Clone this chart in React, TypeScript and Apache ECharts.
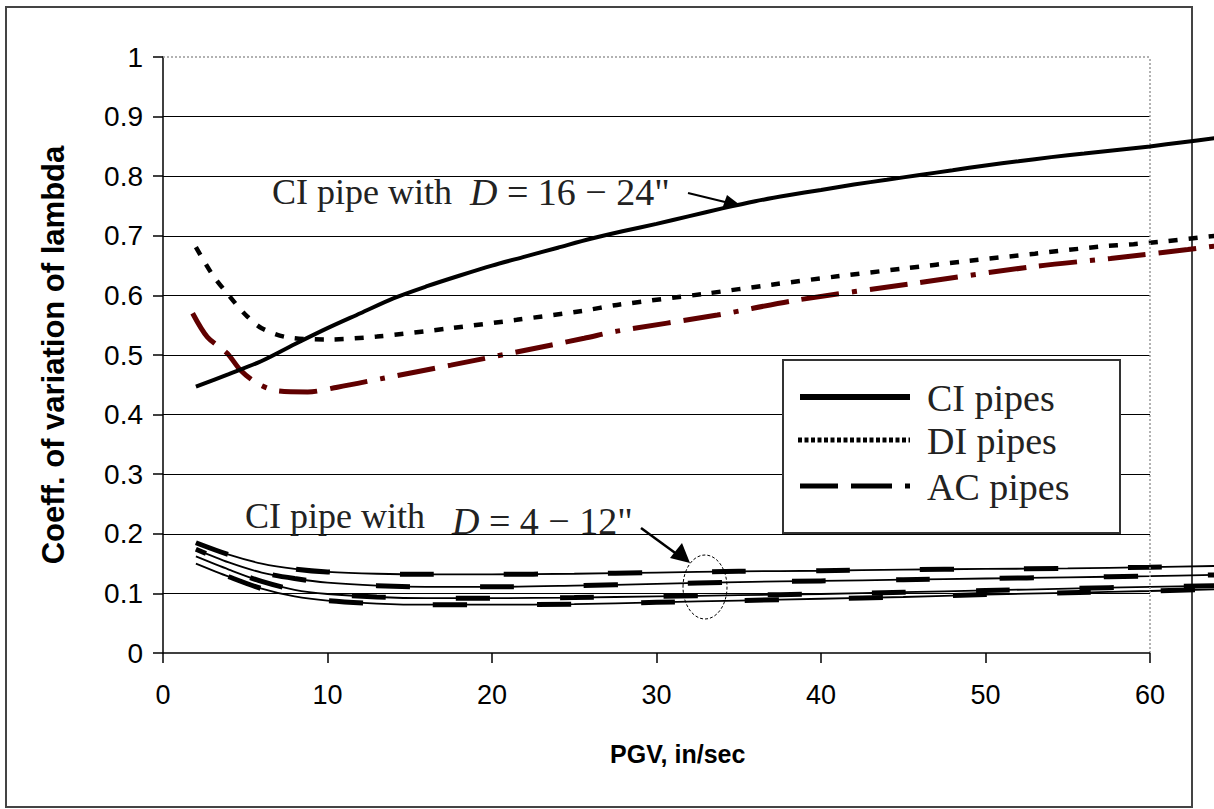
import React, { useEffect, useRef } from "react";
import * as echarts from "echarts";

// ---- data ----
const xTicks = [0, 10, 20, 30, 40, 50, 60];
const yTicks = [0, 0.1, 0.2, 0.3, 0.4, 0.5, 0.6, 0.7, 0.8, 0.9, 1];
const xVisibleMax = 63.8; // curves run a little past the last tick

const ciLargeX = [2, 4, 6, 8, 10, 12, 14, 16, 18, 20, 22, 24, 26, 28, 30, 32, 34, 36, 38, 40, 42, 44, 46, 48, 50, 52, 54, 56, 58, 60, 62, 64];
const ciLargeY = [0.447, 0.468, 0.49, 0.518, 0.545, 0.57, 0.595, 0.615, 0.633, 0.65, 0.665, 0.68, 0.695, 0.708, 0.72, 0.733, 0.746, 0.758, 0.768, 0.777, 0.786, 0.794, 0.802, 0.81, 0.818, 0.825, 0.832, 0.838, 0.844, 0.85, 0.857, 0.864];

const diX = [2, 3, 4, 5, 6, 7.5, 10, 13, 17.5, 21.5, 25.5, 27.6, 33, 37, 41, 45, 49, 53, 57, 59, 61, 64];
const diY = [0.681, 0.635, 0.6, 0.568, 0.545, 0.53, 0.526, 0.531, 0.545, 0.559, 0.574, 0.584, 0.603, 0.618, 0.632, 0.645, 0.658, 0.67, 0.682, 0.686, 0.691, 0.7];

const acX = [1.8, 2.7, 3.9, 4.7, 5.7, 6.9, 8.8, 10.6, 13.4, 17.5, 21.5, 25.6, 27.6, 33.7, 38.5, 45.6, 52.8, 57.6, 62.3, 64];
const acY = [0.57, 0.53, 0.503, 0.475, 0.453, 0.44, 0.438, 0.446, 0.461, 0.483, 0.505, 0.528, 0.54, 0.567, 0.592, 0.62, 0.648, 0.662, 0.677, 0.683];

const smallX = [2, 4, 6, 8, 10, 13, 16, 20, 25, 30, 35, 40, 45, 50, 55, 60, 64];
const small1 = [0.185, 0.165, 0.15, 0.141, 0.136, 0.133, 0.132, 0.132, 0.133, 0.135, 0.137, 0.138, 0.14, 0.141, 0.142, 0.144, 0.146];
const small2 = [0.174, 0.152, 0.135, 0.125, 0.118, 0.113, 0.111, 0.111, 0.113, 0.116, 0.119, 0.121, 0.123, 0.125, 0.127, 0.129, 0.131];
const small3 = [0.162, 0.14, 0.12, 0.106, 0.099, 0.094, 0.092, 0.092, 0.093, 0.095, 0.097, 0.099, 0.102, 0.105, 0.108, 0.111, 0.113];
const small4 = [0.15, 0.128, 0.108, 0.095, 0.088, 0.083, 0.081, 0.081, 0.082, 0.085, 0.088, 0.091, 0.094, 0.098, 0.101, 0.104, 0.107];

const legendNames = ["CI pipes", "DI pipes", "AC pipes"];

const zip = (xs: number[], ys: number[]) => xs.map((x, i) => [x, ys[i]]);

const SERIF = "'Liberation Serif', 'Times New Roman', serif";
const SANS = "'Liberation Sans', Arial, sans-serif";

export default function App() {
  const ref = useRef<HTMLDivElement>(null);

  useEffect(() => {
    if (!ref.current) return;
    const chart = echarts.init(ref.current, null, { renderer: "svg" });

    const xLast = xTicks[xTicks.length - 1];
    const yTop = yTicks[yTicks.length - 1];

    const smallSets = [small1, small2, small3, small4];
    const smallSeries: any[] = [];
    smallSets.forEach((ys, i) => {
      smallSeries.push({
        name: "CI 4-12 thin " + (i + 1),
        type: "line",
        data: zip(smallX, ys),
        showSymbol: false,
        symbol: "none",
        smooth: 0.3,
        silent: true,
        lineStyle: { color: "#000", width: 1.8 },
        z: 3,
      });
      smallSeries.push({
        name: "CI 4-12 dash " + (i + 1),
        type: "line",
        data: zip(smallX, ys),
        showSymbol: false,
        symbol: "none",
        smooth: 0.3,
        silent: true,
        lineStyle: { color: "#000", width: 5, type: [34, 70], dashOffset: i * 23 },
        z: 3,
      });
    });

    // gridlines (solid black, 0.1 .. 0.9) ending at the last x tick
    const gridLines = yTicks
      .slice(1, -1)
      .map((y) => [{ coord: [xTicks[0], y] }, { coord: [xLast, y] }]);

    const mathRich = {
      i: { fontFamily: SERIF, fontStyle: "italic", fontSize: 38, fill: "#222" },
      m: { fontFamily: SERIF, fontSize: 38, fill: "#222" },
    };

    const option: any = {
      animation: false,
      backgroundColor: "#fff",
      grid: { left: 163, right: 1.5, top: 57, bottom: 156, containLabel: false },
      xAxis: {
        type: "value",
        min: xTicks[0],
        max: xVisibleMax,
        interval: 10,
        name: "PGV, in/sec",
        nameLocation: "middle",
        nameGap: 88,
        nameTextStyle: { fontFamily: SANS, fontWeight: "bold", fontSize: 25, color: "#000", padding: [0, 20, 0, 0] },
        axisLine: { show: false },
        axisTick: { length: 10, customValues: xTicks, lineStyle: { color: "#000", width: 1.5 } },
        axisLabel: { fontFamily: SANS, fontSize: 27, color: "#000", margin: 28, customValues: xTicks },
        splitLine: { show: false },
      },
      yAxis: {
        type: "value",
        min: yTicks[0],
        max: yTop,
        interval: 0.1,
        name: "Coeff. of variation of lambda",
        nameLocation: "middle",
        nameGap: 94,
        nameTextStyle: { fontFamily: SANS, fontWeight: "bold", fontSize: 31, color: "#000" },
        axisLine: { lineStyle: { color: "#000", width: 1.5 } },
        axisTick: { length: 10, lineStyle: { color: "#000", width: 1.5 } },
        axisLabel: { fontFamily: SANS, fontSize: 28, color: "#000", margin: 20 },
        splitLine: { show: false },
      },
      series: [
        {
          name: "gridlines",
          type: "line",
          data: [],
          silent: true,
          z: 1,
          markLine: {
            silent: true,
            symbol: "none",
            label: { show: false },
            lineStyle: { color: "#000", type: "solid", width: 1.2 },
            data: gridLines,
          },
        },
        {
          name: "frame",
          type: "line",
          data: [],
          silent: true,
          z: 1,
          markLine: {
            silent: true,
            symbol: "none",
            label: { show: false },
            lineStyle: { color: "#999", type: [2, 2], width: 1.5 },
            data: [
              [{ coord: [xTicks[0], yTop] }, { coord: [xLast, yTop] }],
              [{ coord: [xLast, yTicks[0]] }, { coord: [xLast, yTop] }],
            ],
          },
        },
        {
          name: "x axis line",
          type: "line",
          data: [],
          silent: true,
          z: 2,
          markLine: {
            silent: true,
            symbol: "none",
            label: { show: false },
            lineStyle: { color: "#000", type: "solid", width: 1.5 },
            data: [[{ coord: [xTicks[0], yTicks[0]] }, { coord: [xLast, yTicks[0]] }]],
          },
        },
        ...smallSeries,
        {
          name: legendNames[2],
          type: "line",
          data: zip(acX, acY),
          showSymbol: false,
          symbol: "none",
          smooth: 0.3,
          lineStyle: { color: "#600000", width: 5, type: [38, 13, 38, 13, 5, 13] },
          z: 4,
        },
        {
          name: legendNames[1],
          type: "line",
          data: zip(diX, diY),
          showSymbol: false,
          symbol: "none",
          smooth: 0.3,
          lineStyle: { color: "#000", width: 4.5, type: [9, 11] },
          z: 4,
        },
        {
          name: legendNames[0],
          type: "line",
          data: zip(ciLargeX, ciLargeY),
          showSymbol: false,
          symbol: "none",
          smooth: 0.3,
          lineStyle: { color: "#000", width: 4 },
          z: 5,
        },
      ],
      graphic: [
        {
          type: "rect",
          z: 0,
          silent: true,
          shape: { x: 6, y: 7, width: 1186, height: 800 },
          style: { fill: "none", stroke: "#444", lineWidth: 2 },
        },
        // annotation 1
        {
          type: "text",
          z: 50,
          x: 272,
          y: 192,
          style: {
            text: "CI pipe with  {i|D}{m| = 16 − 24\"}",
            fontFamily: SERIF,
            fontSize: 36,
            fill: "#222",
            verticalAlign: "middle",
            rich: mathRich,
          },
        },
        {
          type: "polyline",
          z: 50,
          shape: { points: [[688, 193], [725, 202]] },
          style: { stroke: "#000", lineWidth: 2, fill: "none" },
        },
        {
          type: "polygon",
          z: 50,
          shape: { points: [[740, 205], [722, 209], [727, 195]] },
          style: { fill: "#000" },
        },
        // annotation 2
        {
          type: "text",
          z: 50,
          x: 245,
          y: 516,
          style: {
            text: "CI pipe with   {i|D}{m| = 4 − 12\"}",
            fontFamily: SERIF,
            fontSize: 36,
            fill: "#222",
            verticalAlign: "middle",
            rich: {
              i: { ...mathRich.i, padding: [10, 0, 0, 0] },
              m: { ...mathRich.m, padding: [10, 0, 0, 0] },
            },
          },
        },
        {
          type: "polyline",
          z: 50,
          shape: { points: [[641, 528], [678, 555]] },
          style: { stroke: "#000", lineWidth: 2.5, fill: "none" },
        },
        {
          type: "polygon",
          z: 50,
          shape: { points: [[690, 563], [670, 558], [682, 543]] },
          style: { fill: "#000" },
        },
        {
          type: "ellipse",
          z: 50,
          shape: { cx: 705, cy: 587, rx: 22, ry: 32 },
          style: { fill: "none", stroke: "#000", lineWidth: 1, lineDash: [3, 2] },
        },
        // legend
        {
          type: "group",
          z: 100,
          children: [
            {
              type: "rect",
              z: 100,
              shape: { x: 783, y: 360, width: 337, height: 173 },
              style: { fill: "#fff", stroke: "#333", lineWidth: 2 },
            },
            {
              type: "line",
              z: 101,
              shape: { x1: 800, y1: 397, x2: 910, y2: 397 },
              style: { stroke: "#000", lineWidth: 6 },
            },
            {
              type: "line",
              z: 101,
              shape: { x1: 798, y1: 440, x2: 910, y2: 440 },
              style: { stroke: "#000", lineWidth: 5, lineDash: [4, 2.5] },
            },
            {
              type: "line",
              z: 101,
              shape: { x1: 800, y1: 486, x2: 910, y2: 486 },
              style: { stroke: "#000", lineWidth: 5, lineDash: [38, 13, 41, 13, 5, 40] },
            },
            {
              type: "text",
              z: 101,
              x: 927,
              y: 398,
              style: { text: legendNames[0], fontFamily: SERIF, fontSize: 38, fill: "#222", verticalAlign: "middle" },
            },
            {
              type: "text",
              z: 101,
              x: 927,
              y: 441,
              style: { text: legendNames[1], fontFamily: SERIF, fontSize: 38, fill: "#222", verticalAlign: "middle" },
            },
            {
              type: "text",
              z: 101,
              x: 927,
              y: 487,
              style: { text: legendNames[2], fontFamily: SERIF, fontSize: 38, fill: "#222", verticalAlign: "middle" },
            },
          ],
        },
      ],
    };

    chart.setOption(option);
    return () => chart.dispose();
  }, []);

  return (
    <div
      ref={ref}
      style={{ position: "absolute", left: 0, top: 0, width: 1214, height: 809, background: "#fff" }}
    />
  );
}
